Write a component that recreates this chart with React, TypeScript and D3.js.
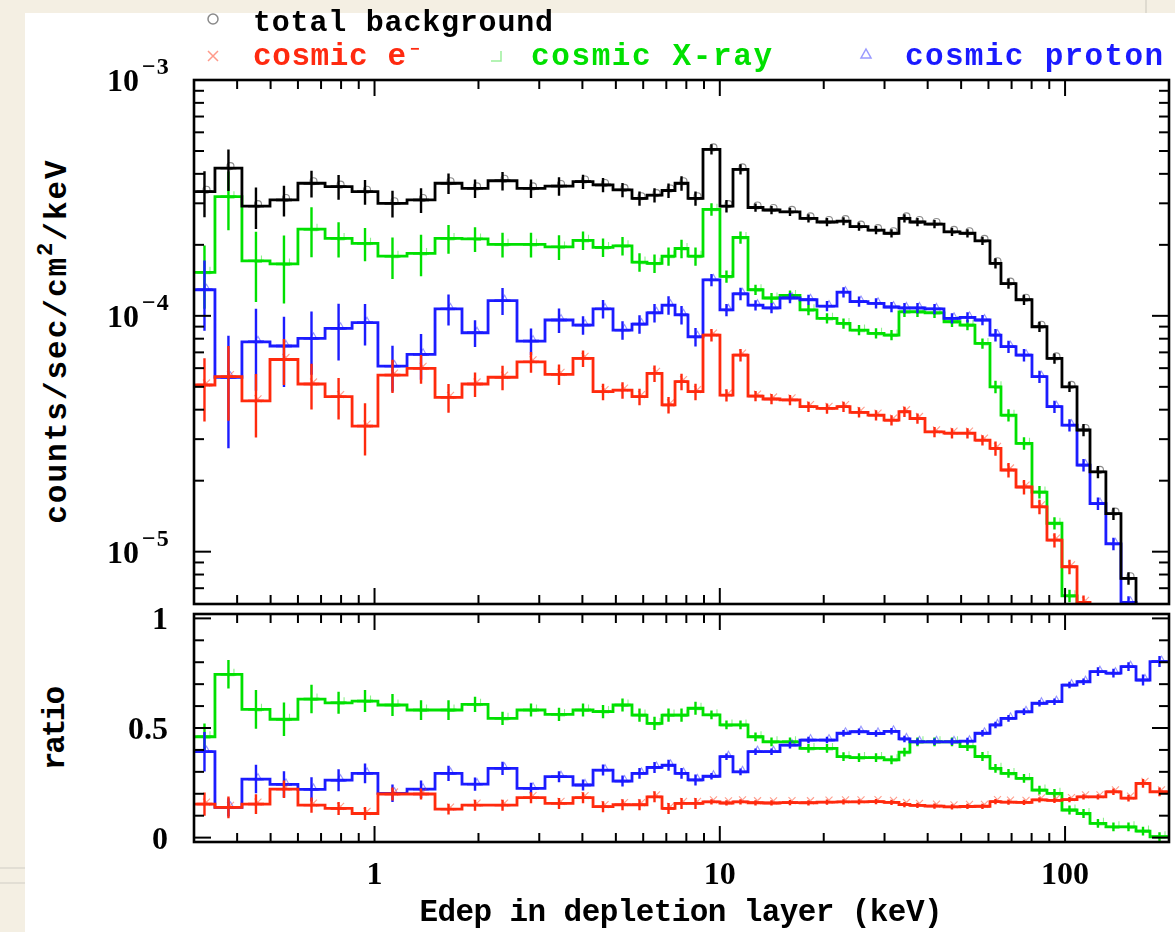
import React from "react";
import * as d3 from "d3";

// ---------------- data ----------------
const binEdges = [0.3, 0.345, 0.413, 0.498, 0.6, 0.719, 0.861, 1.023, 1.242, 1.497, 1.792, 2.132, 2.586, 3.117, 3.757, 4.294, 4.906, 5.568, 6.154, 6.802, 7.419, 8.089, 8.94, 10.01, 10.92, 12.07, 13.34, 14.94, 17.07, 19.12, 21.85, 23.83, 26.87, 29.9, 33.03, 35.54, 39.29, 44.6, 49.62, 54.83, 60.61, 65.22, 72.1, 80.2, 88.63, 97.95, 108.3, 118.1, 131.3, 145.2, 160.5, 176.2, 200];

const totalBackground = [3.36e-4, 4.23e-4, 2.92e-4, 3.10e-4, 3.65e-4, 3.53e-4, 3.36e-4, 3.00e-4, 3.10e-4, 3.65e-4, 3.47e-4, 3.74e-4, 3.47e-4, 3.55e-4, 3.71e-4, 3.59e-4, 3.42e-4, 3.15e-4, 3.25e-4, 3.40e-4, 3.65e-4, 3.15e-4, 5.08e-4, 2.92e-4, 4.18e-4, 2.88e-4, 2.81e-4, 2.76e-4, 2.59e-4, 2.50e-4, 2.52e-4, 2.39e-4, 2.31e-4, 2.24e-4, 2.59e-4, 2.50e-4, 2.45e-4, 2.27e-4, 2.24e-4, 2.08e-4, 1.67e-4, 1.37e-4, 1.17e-4, 8.99e-5, 6.6e-5, 5.0e-5, 3.28e-5, 2.18e-5, 1.45e-5, 7.71e-6, 4.5e-6, 3.0e-6];
const cosmicElectron = [5.09e-5, 5.52e-5, 4.36e-5, 6.53e-5, 5.14e-5, 4.54e-5, 3.41e-5, 5.61e-5, 5.99e-5, 4.51e-5, 5.14e-5, 5.49e-5, 6.38e-5, 5.65e-5, 6.6e-5, 4.77e-5, 4.84e-5, 4.54e-5, 5.7e-5, 4.19e-5, 5.26e-5, 4.77e-5, 8.29e-5, 4.61e-5, 6.82e-5, 4.57e-5, 4.44e-5, 4.4e-5, 4.12e-5, 4.05e-5, 4.12e-5, 3.9e-5, 3.79e-5, 3.61e-5, 3.92e-5, 3.67e-5, 3.22e-5, 3.18e-5, 3.18e-5, 2.97e-5, 2.74e-5, 2.22e-5, 1.88e-5, 1.55e-5, 1.12e-5, 8.63e-6, 6.1e-6, 4.0e-6, 3.0e-6, 1.4e-6, 1.1e-6, 6e-7];
const cosmicXray = [1.53e-4, 3.2e-4, 1.71e-4, 1.66e-4, 2.33e-4, 2.13e-4, 2.03e-4, 1.79e-4, 1.84e-4, 2.13e-4, 2.12e-4, 2.01e-4, 2.01e-4, 1.96e-4, 2.09e-4, 1.95e-4, 1.98e-4, 1.69e-4, 1.67e-4, 1.79e-4, 1.93e-4, 1.79e-4, 2.83e-4, 1.47e-4, 2.15e-4, 1.29e-4, 1.19e-4, 1.22e-4, 1.06e-4, 9.76e-5, 9.29e-5, 8.7e-5, 8.43e-5, 8.29e-5, 1.04e-4, 1.04e-4, 1.03e-4, 9.44e-5, 9.14e-5, 7.64e-5, 5.0e-5, 3.79e-5, 2.88e-5, 1.79e-5, 1.32e-5, 6.5e-6, 3.6e-6, 1.4e-6, 7e-7, 3e-7, 1.4e-7, 2e-8];
const cosmicProton = [1.29e-4, 5.49e-5, 7.76e-5, 7.45e-5, 8.03e-5, 8.85e-5, 9.35e-5, 6.12e-5, 6.87e-5, 1.07e-4, 8.48e-5, 1.16e-4, 7.82e-5, 9.6e-5, 9.14e-5, 1.07e-4, 8.7e-5, 9.23e-5, 1.03e-4, 1.11e-4, 1.01e-4, 8.15e-5, 1.42e-4, 1.06e-4, 1.24e-4, 1.11e-4, 1.08e-4, 1.19e-4, 1.17e-4, 1.1e-4, 1.26e-4, 1.15e-4, 1.13e-4, 1.09e-4, 1.08e-4, 1.08e-4, 1.07e-4, 9.76e-5, 9.86e-5, 9.6e-5, 8.29e-5, 7.4e-5, 6.82e-5, 5.52e-5, 4.12e-5, 3.44e-5, 2.33e-5, 1.6e-5, 1.08e-5, 6.1e-6, 3.2e-6, 2.4e-6];

const totalErrFrac = [0.22, 0.2, 0.2, 0.15, 0.13, 0.12, 0.12, 0.13, 0.12, 0.1, 0.09, 0.09, 0.09, 0.09, 0.07, 0.07, 0.07, 0.07, 0.07, 0.07, 0.07, 0.07, 0.05, 0.06, 0.05, 0.04, 0.04, 0.04, 0.04, 0.04, 0.04, 0.04, 0.04, 0.04, 0.04, 0.04, 0.04, 0.04, 0.04, 0.04, 0.05, 0.05, 0.05, 0.05, 0.05, 0.05, 0.06, 0.06, 0.06, 0.06, 0.08, 0.08];
const electronErrFrac = [0.3, 0.35, 0.3, 0.22, 0.22, 0.2, 0.25, 0.16, 0.14, 0.14, 0.12, 0.12, 0.1, 0.1, 0.08, 0.08, 0.08, 0.08, 0.08, 0.08, 0.08, 0.08, 0.06, 0.06, 0.06, 0.05, 0.05, 0.05, 0.05, 0.05, 0.05, 0.05, 0.05, 0.05, 0.05, 0.05, 0.05, 0.05, 0.05, 0.05, 0.07, 0.07, 0.07, 0.07, 0.07, 0.07, 0.07, 0.07, 0.07, 0.07, 0.1, 0.1];
const xrayErrFrac = [0.3, 0.28, 0.33, 0.32, 0.24, 0.17, 0.16, 0.2, 0.2, 0.14, 0.12, 0.12, 0.12, 0.12, 0.09, 0.09, 0.09, 0.09, 0.09, 0.09, 0.09, 0.09, 0.06, 0.06, 0.06, 0.05, 0.05, 0.05, 0.05, 0.05, 0.05, 0.05, 0.05, 0.05, 0.05, 0.05, 0.05, 0.05, 0.05, 0.05, 0.06, 0.06, 0.06, 0.06, 0.06, 0.06, 0.1, 0.1, 0.1, 0.1, 0.1, 0.1];
const protonErrFrac = [0.33, 0.5, 0.38, 0.33, 0.3, 0.27, 0.2, 0.22, 0.22, 0.15, 0.13, 0.13, 0.13, 0.12, 0.09, 0.09, 0.09, 0.09, 0.09, 0.09, 0.09, 0.09, 0.06, 0.06, 0.06, 0.05, 0.05, 0.05, 0.05, 0.05, 0.05, 0.05, 0.05, 0.05, 0.05, 0.05, 0.05, 0.05, 0.05, 0.05, 0.06, 0.06, 0.06, 0.06, 0.06, 0.06, 0.06, 0.06, 0.06, 0.06, 0.1, 0.1];

const ratioElectron = [0.153, 0.138, 0.153, 0.221, 0.148, 0.133, 0.11, 0.199, 0.199, 0.13, 0.148, 0.148, 0.182, 0.156, 0.182, 0.141, 0.15, 0.15, 0.186, 0.133, 0.156, 0.156, 0.163, 0.158, 0.163, 0.159, 0.158, 0.16, 0.159, 0.162, 0.163, 0.163, 0.164, 0.161, 0.151, 0.147, 0.144, 0.14, 0.142, 0.143, 0.164, 0.162, 0.161, 0.172, 0.17, 0.173, 0.186, 0.186, 0.209, 0.18, 0.247, 0.209];
const ratioXray = [0.46, 0.745, 0.585, 0.54, 0.632, 0.615, 0.623, 0.605, 0.582, 0.582, 0.608, 0.544, 0.582, 0.562, 0.582, 0.575, 0.605, 0.559, 0.521, 0.559, 0.559, 0.59, 0.56, 0.514, 0.514, 0.46, 0.437, 0.437, 0.407, 0.407, 0.369, 0.365, 0.365, 0.355, 0.39, 0.437, 0.437, 0.437, 0.415, 0.37, 0.316, 0.293, 0.27, 0.217, 0.202, 0.126, 0.11, 0.065, 0.049, 0.049, 0.03, 0.004];
const ratioProton = [0.392, 0.138, 0.267, 0.243, 0.22, 0.262, 0.293, 0.202, 0.221, 0.293, 0.244, 0.316, 0.225, 0.278, 0.24, 0.308, 0.258, 0.293, 0.32, 0.33, 0.293, 0.263, 0.28, 0.369, 0.3, 0.392, 0.392, 0.422, 0.445, 0.445, 0.476, 0.483, 0.475, 0.485, 0.45, 0.437, 0.437, 0.437, 0.44, 0.476, 0.514, 0.544, 0.574, 0.613, 0.62, 0.696, 0.711, 0.757, 0.75, 0.78, 0.719, 0.803];

const ratioErrElectron = [0.053, 0.05, 0.045, 0.04, 0.035, 0.03, 0.03, 0.03, 0.025, 0.025, 0.025, 0.025, 0.025, 0.025, 0.025, 0.025, 0.025, 0.025, 0.025, 0.025, 0.025, 0.025, 0.012, 0.012, 0.012, 0.012, 0.012, 0.012, 0.012, 0.012, 0.012, 0.012, 0.012, 0.012, 0.012, 0.012, 0.012, 0.012, 0.012, 0.012, 0.012, 0.012, 0.012, 0.012, 0.012, 0.012, 0.012, 0.012, 0.015, 0.015, 0.02, 0.02];
const ratioErrXray = [0.06, 0.065, 0.088, 0.076, 0.065, 0.05, 0.05, 0.05, 0.045, 0.045, 0.035, 0.03, 0.03, 0.03, 0.03, 0.03, 0.03, 0.03, 0.03, 0.03, 0.03, 0.03, 0.02, 0.02, 0.02, 0.02, 0.02, 0.02, 0.02, 0.02, 0.02, 0.02, 0.02, 0.02, 0.02, 0.02, 0.02, 0.02, 0.02, 0.02, 0.02, 0.02, 0.02, 0.02, 0.02, 0.02, 0.02, 0.02, 0.02, 0.02, 0.02, 0.02];
const ratioErrProton = [0.09, 0.042, 0.065, 0.06, 0.055, 0.05, 0.045, 0.04, 0.04, 0.035, 0.03, 0.03, 0.025, 0.025, 0.025, 0.025, 0.025, 0.025, 0.025, 0.025, 0.025, 0.025, 0.015, 0.015, 0.015, 0.015, 0.015, 0.015, 0.015, 0.015, 0.015, 0.015, 0.015, 0.015, 0.015, 0.015, 0.015, 0.015, 0.015, 0.015, 0.015, 0.015, 0.015, 0.015, 0.015, 0.015, 0.015, 0.02, 0.02, 0.02, 0.025, 0.025];

const xTickValues = [1, 10, 100];
const xTickLabels = ["1", "10", "100"];
const yUpperExponents = [-3, -4, -5];
const ratioTickValues = [0, 0.5, 1];
const ratioTickLabels = ["0", "0.5", "1"];
const legendLabels = ["total background", "cosmic e", "cosmic X-ray", "cosmic proton"];
const xAxisTitle = "Edep in depletion layer (keV)";
const ratioTitle = "ratio";

// ---------------- styling / layout ----------------
const W = 1175;
const H = 932;
const X0 = 194;
const X1 = 1169;
const UT = 80;
const UB = 604;
const LT = 614;
const LB = 842;
const MONO = "'Liberation Mono', 'DejaVu Sans Mono', monospace";
const SERIF = "'Liberation Serif', 'DejaVu Serif', serif";
const C_TOTAL = "#000000";
const C_E = "#ff2a10";
const C_X = "#00e000";
const C_P = "#1a1aff";

type Kind = "circle" | "cross" | "corner" | "triangle";

function marker(kind: Kind, cx: number, cy: number, color: string, key: string, sw = 1.3, s = 4) {
  if (kind === "circle") return <circle key={key} cx={cx} cy={cy} r={s} fill="none" stroke={color} strokeWidth={sw} />;
  if (kind === "cross")
    return <path key={key} d={`M${cx - s},${cy - s}L${cx + s},${cy + s}M${cx - s},${cy + s}L${cx + s},${cy - s}`} fill="none" stroke={color} strokeWidth={sw} />;
  if (kind === "corner")
    return <path key={key} d={`M${cx - s},${cy + s}H${cx + s}V${cy - s}`} fill="none" stroke={color} strokeWidth={sw} />;
  return <path key={key} d={`M${cx},${cy - s}L${cx + s},${cy + s * 0.8}L${cx - s},${cy + s * 0.8}Z`} fill="none" stroke={color} strokeWidth={sw} />;
}

export default function App() {
  const x = d3.scaleLog().domain([0.3, 200]).range([X0, X1]);
  const yU = d3.scaleLog().domain([6e-6, 1e-3]).range([UB, UT]);
  const yL = d3.scaleLinear().domain([-0.02, 1.02]).range([LB, LT]);

  const stepPath = (vals: number[], y: (v: number) => number) => {
    const pts: [number, number][] = vals.map((v, i) => [binEdges[i], v]);
    pts.push([binEdges[vals.length], vals[vals.length - 1]]);
    return d3
      .line<[number, number]>()
      .x((d) => x(d[0]))
      .y((d) => y(d[1]))
      .curve(d3.curveStepAfter)(pts) as string;
  };

  const upperSeries = [
    { name: "x", vals: cosmicXray, err: xrayErrFrac, color: C_X, kind: "corner" as Kind },
    { name: "p", vals: cosmicProton, err: protonErrFrac, color: C_P, kind: "triangle" as Kind },
    { name: "e", vals: cosmicElectron, err: electronErrFrac, color: C_E, kind: "cross" as Kind },
    { name: "t", vals: totalBackground, err: totalErrFrac, color: C_TOTAL, kind: "circle" as Kind },
  ];
  const lowerSeries = [
    { name: "lx", vals: ratioXray, err: ratioErrXray, color: C_X, kind: "corner" as Kind },
    { name: "lp", vals: ratioProton, err: ratioErrProton, color: C_P, kind: "triangle" as Kind },
    { name: "le", vals: ratioElectron, err: ratioErrElectron, color: C_E, kind: "cross" as Kind },
  ];

  const errBars = (vals: number[], errs: number[], y: (v: number) => number, log: boolean, color: string, kind: Kind, key: string) => {
    const out: JSX.Element[] = [];
    vals.forEach((v, i) => {
      const xa = x(binEdges[i]);
      const xb = x(binEdges[i + 1]);
      const xc = (xa + xb) / 2;
      const hw = Math.min(8, (xb - xa) / 2);
      const lo = log ? v * (1 - errs[i]) : v - errs[i];
      const hi = log ? v * (1 + errs[i]) : v + errs[i];
      const yc = y(v);
      out.push(
        <path
          key={`${key}-e${i}`}
          d={`M${xc},${y(lo)}V${y(hi)}M${xc - hw},${yc}H${xc + hw}`}
          stroke={color}
          strokeWidth={2.4}
          fill="none"
        />
      );
      out.push(
        <g key={`${key}-m${i}`} opacity={0.45}>
          {marker(kind, xc + 2, yc - 2, color, `${key}-mk${i}`, 1.1, 3.5)}
        </g>
      );
    });
    return out;
  };

  const xTicks = x.ticks().filter((t) => t >= 0.3 && t <= 200);
  const isMajorX = (t: number) => Math.abs(Math.log10(t) - Math.round(Math.log10(t))) < 1e-6;
  const yUTicks = yU.ticks().filter((t) => t >= 6e-6 && t <= 1e-3 * 1.0001);
  const isMajorYU = (t: number) => Math.abs(Math.log10(t) - Math.round(Math.log10(t))) < 1e-6;
  const yLTicks = yL.ticks(10).filter((t) => t >= 0 && t <= 1);
  const isMajorYL = (t: number) => ratioTickValues.some((m) => Math.abs(m - t) < 1e-9);

  const tickEls: JSX.Element[] = [];
  const panelTicks = (top: number, bottom: number, key: string) => {
    xTicks.forEach((t, i) => {
      const px = x(t);
      const len = isMajorX(t) ? 16 : 9;
      tickEls.push(<line key={`${key}xt${i}`} x1={px} x2={px} y1={top} y2={top + len} stroke="#000" strokeWidth={2} />);
      tickEls.push(<line key={`${key}xb${i}`} x1={px} x2={px} y1={bottom} y2={bottom - len} stroke="#000" strokeWidth={2} />);
    });
  };
  panelTicks(UT, UB, "u");
  panelTicks(LT, LB, "l");
  yUTicks.forEach((t, i) => {
    const py = yU(t);
    const len = isMajorYU(t) ? 17 : 10;
    tickEls.push(<line key={`yul${i}`} x1={X0} x2={X0 + len} y1={py} y2={py} stroke="#000" strokeWidth={2} />);
    tickEls.push(<line key={`yur${i}`} x1={X1} x2={X1 - len} y1={py} y2={py} stroke="#000" strokeWidth={2} />);
  });
  yLTicks.forEach((t, i) => {
    const py = yL(t);
    const len = isMajorYL(t) ? 17 : 10;
    tickEls.push(<line key={`yll${i}`} x1={X0} x2={X0 + len} y1={py} y2={py} stroke="#000" strokeWidth={2} />);
    tickEls.push(<line key={`ylr${i}`} x1={X1} x2={X1 - len} y1={py} y2={py} stroke="#000" strokeWidth={2} />);
  });

  return (
    <svg width={W} height={H} style={{ position: "absolute", left: 0, top: 0, display: "block" }}>
      <defs>
        <clipPath id="clipU">
          <rect x={X0} y={UT} width={X1 - X0} height={UB - UT} />
        </clipPath>
        <clipPath id="clipL">
          <rect x={X0} y={LT} width={X1 - X0} height={LB - LT} />
        </clipPath>
        <filter id="soft" x="-5%" y="-5%" width="110%" height="110%">
          <feGaussianBlur stdDeviation="0.55" />
        </filter>
      </defs>

      {/* page background */}
      <rect x={0} y={0} width={W} height={H} fill="#f4efe3" />
      <rect x={25} y={13} width={W - 25} height={H - 13} fill="#ffffff" />
      <line x1={1146} x2={1146} y1={0} y2={13} stroke="#d8d4ca" strokeWidth={1.5} />
      <line x1={0} x2={25} y1={868} y2={868} stroke="#e2ded4" strokeWidth={2} />
      <line x1={0} x2={25} y1={883} y2={883} stroke="#e2ded4" strokeWidth={2} />

      {/* upper panel data */}
      <g clipPath="url(#clipU)">
        <g filter="url(#soft)">
          {upperSeries.map((s) => (
            <g key={s.name}>
              <path d={stepPath(s.vals, yU)} fill="none" stroke={s.color} strokeWidth={2.8} />
              {errBars(s.vals, s.err, yU, true, s.color, s.kind, s.name)}
            </g>
          ))}
        </g>
      </g>

      {/* lower panel data */}
      <g clipPath="url(#clipL)">
        <g filter="url(#soft)">
          {lowerSeries.map((s) => (
            <g key={s.name}>
              <path d={stepPath(s.vals, yL)} fill="none" stroke={s.color} strokeWidth={2.8} />
              {errBars(s.vals, s.err, yL, false, s.color, s.kind, s.name)}
            </g>
          ))}
        </g>
      </g>

      {/* frames */}
      <rect x={X0} y={UT} width={X1 - X0} height={UB - UT} fill="none" stroke="#000" strokeWidth={2.6} />
      <rect x={X0} y={LT} width={X1 - X0} height={LB - LT} fill="none" stroke="#000" strokeWidth={2.6} />
      {tickEls}

      {/* upper y tick labels */}
      {yUpperExponents.map((e) => {
        const py = yU(Math.pow(10, e));
        return (
          <g key={`yl${e}`} fontFamily={SERIF} fontWeight="bold" fill="#000">
            <text x={139} y={py + 11} fontSize={32} textAnchor="end">10</text>
            <text x={142} y={py - 6} fontSize={24} letterSpacing={1}>{`\u2212${Math.abs(e)}`}</text>
          </g>
        );
      })}

      {/* lower y tick labels */}
      {ratioTickValues.map((t, i) => (
        <text key={`rl${i}`} x={168} y={yL(t) + 11} fontSize={32} textAnchor="end" fontFamily={SERIF} fontWeight="bold">
          {ratioTickLabels[i]}
        </text>
      ))}

      {/* x tick labels */}
      {xTickValues.map((t, i) => (
        <text key={`xl${i}`} x={x(t)} y={884} fontSize={32} textAnchor="middle" fontFamily={SERIF} fontWeight="bold">
          {xTickLabels[i]}
        </text>
      ))}

      {/* axis titles */}
      <text x={681} y={921} fontSize={31} fontFamily={MONO} fontWeight="bold" textAnchor="middle" textLength={523} lengthAdjust="spacing">
        {xAxisTitle}
      </text>
      <text transform="translate(66,341) rotate(-90)" fontSize={31} fontFamily={MONO} fontWeight="bold" textAnchor="middle" letterSpacing={2}>
        counts/sec/cm
        <tspan dy={-14} fontSize={22}>2</tspan>
        <tspan dy={14}>/keV</tspan>
      </text>
      <text transform="translate(64,728) rotate(-90)" fontSize={31} fontFamily={MONO} fontWeight="bold" textAnchor="middle" textLength={84} lengthAdjust="spacing">
        {ratioTitle}
      </text>

      {/* legend */}
      {marker("circle", 213, 19, "#8a8a8a", "lg0", 1.5, 5)}
      <text x={253} y={31} fontSize={30} fontFamily={MONO} fontWeight="bold" fill={C_TOTAL} textLength={300} lengthAdjust="spacing">
        {legendLabels[0]}
      </text>
      {marker("cross", 213, 56, "#ff9a8a", "lg1", 1.5, 5)}
      <text x={253} y={65} fontSize={31} fontFamily={MONO} fontWeight="bold" fill={C_E}>
        <tspan textLength={153} lengthAdjust="spacing">{legendLabels[1]}</tspan>
        <tspan x={410} dy={-11} fontSize={16}>{"\u2212"}</tspan>
      </text>
      {marker("corner", 496, 56, "#9cf09c", "lg2", 1.5, 5)}
      <text x={531} y={65} fontSize={31} fontFamily={MONO} fontWeight="bold" fill={C_X} textLength={241} lengthAdjust="spacing">
        {legendLabels[2]}
      </text>
      {marker("triangle", 866, 54, "#9a9aff", "lg3", 1.5, 5)}
      <text x={905} y={65} fontSize={31} fontFamily={MONO} fontWeight="bold" fill={C_P} textLength={258} lengthAdjust="spacing">
        {legendLabels[3]}
      </text>
    </svg>
  );
}
